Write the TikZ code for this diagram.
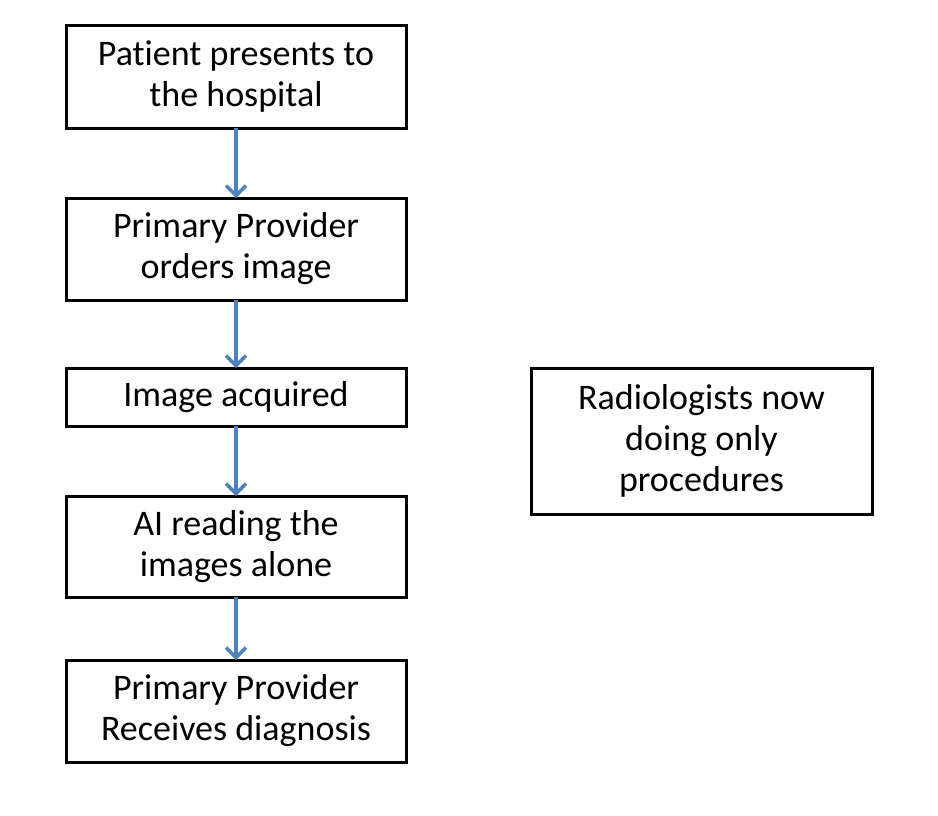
\documentclass[tikz,border=0pt]{standalone}
\usepackage{fontspec}
\setmainfont{Carlito}[Ligatures=CommonOff]
\usepackage{tikz}
\usetikzlibrary{arrows.meta,positioning}
\definecolor{flowblue}{RGB}{79,129,189}
\tikzset{
  flowbox/.style={rectangle,draw,line width=3pt,align=center,minimum width=340pt,
    inner sep=0,outer sep=0,font=\fontsize{36}{41}\selectfont},
  flowarrow/.style={draw=flowblue,line width=3.5pt,-{Straight Barb[length=10pt,width=20pt]}}
}

\begin{document}
\begin{tikzpicture}[x=1pt,y=-1pt]
    \useasboundingbox (0,0) rectangle (938,816);
    % Main steps
    \node[flowbox,minimum height=102pt] (S1) at (236,77) {Patient presents to\\the hospital};
    \node[flowbox,minimum height=102pt] (S2) at (236,249) {Primary Provider\\orders image};
    \node[flowbox,minimum height=58pt]  (S3) at (236,397) {Image acquired};
    \node[flowbox,minimum height=101pt] (S4) at (236,546.5) {AI reading the\\images alone};
    \node[flowbox,minimum height=102pt] (S5) at (236,711) {Primary Provider\\Receives diagnosis};
    % Side note
    \node[flowbox,minimum width=341pt,minimum height=146pt] (R) at (701.5,441) {Radiologists now\\doing only\\procedures};
    % Connections
    \foreach \i/\j in {1/2,2/3,3/4,4/5} \draw[flowarrow] (S\i) -- (S\j);
  \end{tikzpicture}
\end{document}
